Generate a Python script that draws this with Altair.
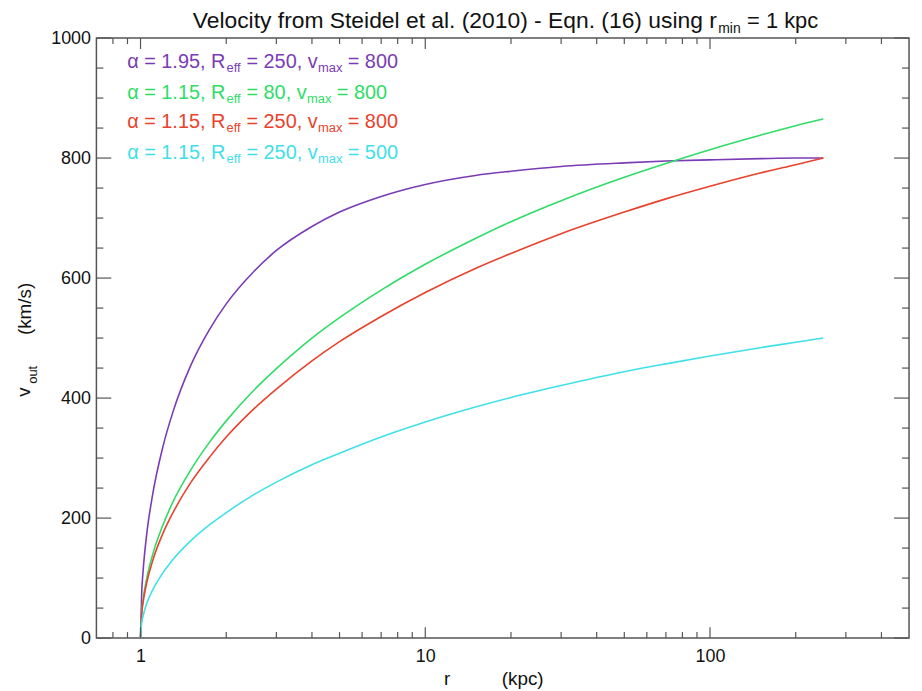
import altair as alt
import pandas as pd

# ---- data ----
R_KPC = [1, 1.01, 1.02, 1.05, 1.1, 1.2, 1.3, 1.5, 1.75, 2, 2.5, 3, 4, 5, 7,
         10, 15, 20, 30, 50, 70, 100, 150, 200, 250]
V_PURPLE = [0, 78, 109, 171, 236, 320, 377, 454, 515, 557, 611, 646, 686, 710, 736,
            756, 771, 778, 786, 792, 795, 797, 799, 800, 800]
V_GREEN = [0, 44, 63, 98, 137, 189, 227, 280, 327, 362, 413, 449, 500, 534, 580,
           623, 666, 694, 729, 768, 791, 814, 838, 854, 865]
V_RED = [0, 41, 58, 91, 127, 175, 209, 259, 302, 335, 382, 415, 462, 494, 536,
         576, 616, 641, 674, 710, 732, 753, 775, 789, 800]
V_CYAN = [0, 26, 36, 57, 79, 109, 131, 162, 189, 209, 239, 260, 289, 308, 335,
          360, 385, 401, 421, 444, 457, 470, 484, 493, 500]
SERIES = ["a1.95 R250 v800", "a1.15 R80 v800", "a1.15 R250 v800", "a1.15 R250 v500"]
COLORS = ["#7a3cb4", "#2fdc66", "#e8422c", "#3fe0e8"]

X_MAJOR = [1, 10, 100]
X_MINOR = [0.8, 0.9, 2, 3, 4, 5, 6, 7, 8, 9, 20, 30, 40, 50, 60, 70, 80, 90, 200, 300, 400]
Y_MAJOR = [0, 200, 400, 600, 800, 1000]
Y_MINOR = [50, 100, 150, 250, 300, 350, 450, 500, 550, 650, 700, 750, 850, 900, 950]

rows = []
for name, vals in zip(SERIES, [V_PURPLE, V_GREEN, V_RED, V_CYAN]):
    for r, v in zip(R_KPC, vals):
        rows.append({"r": r, "v": v, "series": name})
df = pd.DataFrame(rows)

W, H = 818, 604
FONT = "Liberation Sans"
AX = "#555555"

xscale = alt.Scale(type="log", domain=[0.7, 500], nice=False)
yscale = alt.Scale(domain=[0, 1000], nice=False, zero=False)
xaxis = alt.Axis(values=X_MAJOR, format="d", ticks=False, tickSize=0, domain=False,
                 grid=False, labelFontSize=18, labelPadding=10, title=None,
                 labelColor="#111111", labelFont=FONT)
yaxis = alt.Axis(values=Y_MAJOR, format="d", ticks=False, tickSize=0, domain=False,
                 grid=False, labelFontSize=18, labelPadding=6, title=None,
                 labelColor="#111111", labelFont=FONT)

lines = alt.Chart(df).mark_line(strokeWidth=1.6, interpolate="monotone").encode(
    x=alt.X("r:Q", scale=xscale, axis=xaxis),
    y=alt.Y("v:Q", scale=yscale, axis=yaxis),
    color=alt.Color("series:N", scale=alt.Scale(domain=SERIES, range=COLORS), legend=None),
)


def xticks(vals, length, top):
    return alt.Chart(pd.DataFrame({"r": vals})).mark_rule(color=AX, strokeWidth=1.2).encode(
        x=alt.X("r:Q", scale=xscale, axis=xaxis),
        y=alt.value(0 if top else H),
        y2=alt.value(length if top else H - length),
    )


def yticks(vals, length, right):
    return alt.Chart(pd.DataFrame({"v": vals})).mark_rule(color=AX, strokeWidth=1.2).encode(
        y=alt.Y("v:Q", scale=yscale, axis=yaxis),
        x=alt.value(W if right else 0),
        x2=alt.value(W - length if right else length),
    )


def txt(s, x, y, size, color="#111111", angle=0):
    return alt.Chart(pd.DataFrame({"t": [s]})).mark_text(
        align="left", baseline="alphabetic", font=FONT, fontSize=size, color=color, angle=angle
    ).encode(text="t:N", x=alt.value(x), y=alt.value(y))


ticks = [
    xticks(X_MAJOR, 11, False), xticks(X_MAJOR, 11, True),
    xticks(X_MINOR, 6, False), xticks(X_MINOR, 6, True),
    yticks(Y_MAJOR, 15, False), yticks(Y_MAJOR, 15, True),
    yticks(Y_MINOR, 7, False), yticks(Y_MINOR, 7, True),
]

LEG = 20
SUB = 13
texts = []
# title
texts += [txt("Velocity from Steidel et al. (2010) - Eqn. (16) using r", 97, -10, 23),
          txt("min", 626, -5, 14),
          txt("= 1 kpc", 655, -10, 22)]
# legend lines: (main, mid, end, baseline, colour, x of eff, mid, max, end)
legend_specs = [
    ("α = 1.95, R", "= 250, v", "= 800", 30, COLORS[0], (131, 151, 223, 253)),
    ("α = 1.15, R", "= 80, v", "= 800", 61, COLORS[1], (131, 151, 212, 242)),
    ("α = 1.15, R", "= 250, v", "= 800", 91, COLORS[2], (131, 151, 223, 253)),
    ("α = 1.15, R", "= 250, v", "= 500", 122, COLORS[3], (131, 151, 223, 253)),
]
for a, b, c, yb, col, (xe, xb, xm, xc) in legend_specs:
    texts += [txt(a, 31, yb, LEG, col), txt("eff", xe, yb + 4, SUB, col),
              txt(b, xb, yb, LEG, col), txt("max", xm, yb + 4, SUB, col),
              txt(c, xc, yb, LEG, col)]
# axis titles
texts += [txt("r", 350, 651, 19), txt("(kpc)", 408, 651, 19)]
texts += [txt("v", -67, 361, 19, angle=270), txt("out", -60, 348, 13, angle=270),
          txt("(km/s)", -66, 299, 19, angle=270)]

chart = alt.layer(lines, *ticks, *texts).properties(
    width=W, height=H,
    padding={"left": 89, "top": 28, "right": 5, "bottom": 50},
    autosize=alt.AutoSizeParams(type="none"),
).configure_view(stroke=AX, strokeWidth=1.5)

chart.save("out.html", embed_options={"renderer": "svg", "actions": False})
